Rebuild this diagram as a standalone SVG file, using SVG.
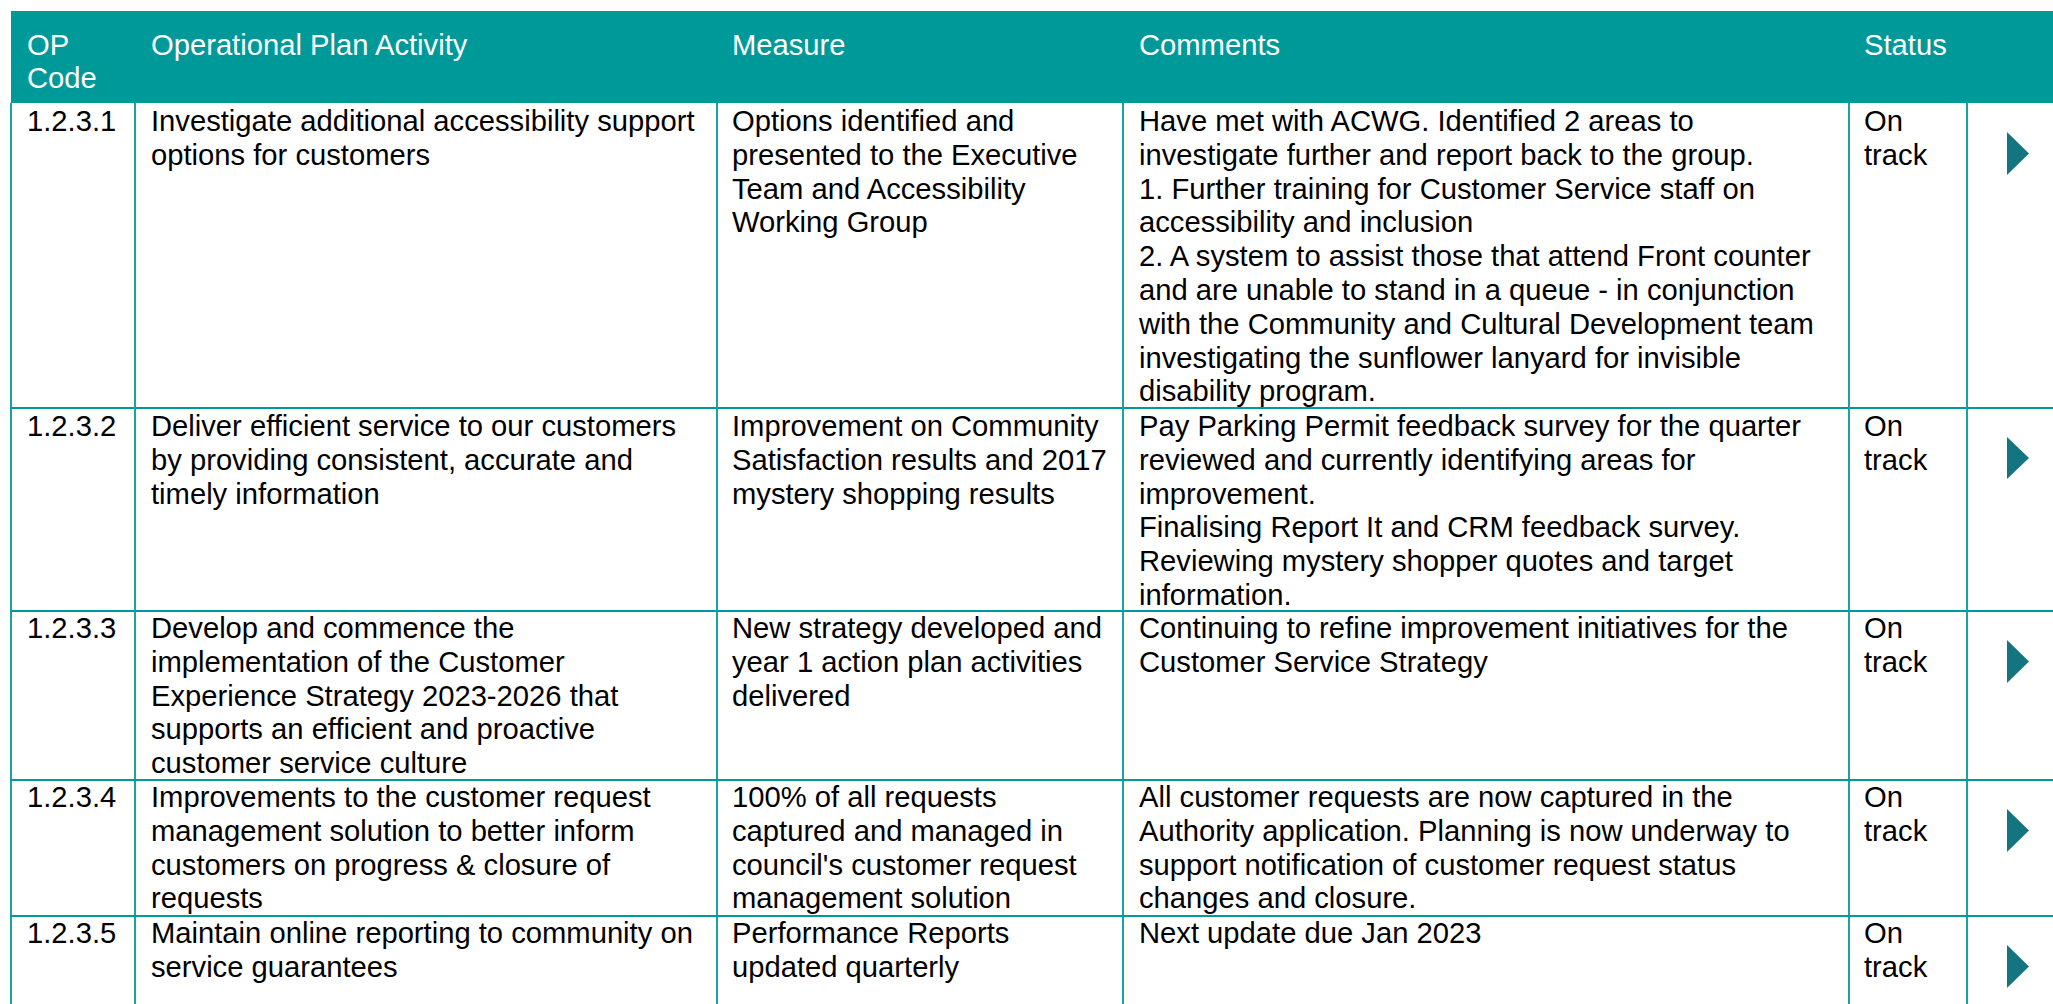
<svg xmlns="http://www.w3.org/2000/svg" width="2053" height="1004" viewBox="0 0 2053 1004">
<style>
.t{font-family:"Liberation Sans",Arial,sans-serif;font-size:29.2px;fill:#000}
.h{font-family:"Liberation Sans",Arial,sans-serif;font-size:29.2px;fill:#fff}
.g{stroke:#009999;stroke-width:1.8;fill:none}
.ar{fill:#12757f}
</style>
<rect x="0" y="0" width="2053" height="1004" fill="#fff"/>
<g id="header">
<rect x="11" y="11" width="2042" height="92" fill="#009999"/>
<text class="h" x="27" y="55">OP<tspan x="27" dy="33">Code</tspan></text>
<text class="h" x="151" y="55">Operational Plan Activity</text>
<text class="h" x="732" y="55">Measure</text>
<text class="h" x="1139" y="55">Comments</text>
<text class="h" x="1864" y="55">Status</text>
</g>
<g id="grid">
<line class="g" x1="11" y1="103" x2="11" y2="1004"/>
<line class="g" x1="135" y1="103" x2="135" y2="1004"/>
<line class="g" x1="717" y1="103" x2="717" y2="1004"/>
<line class="g" x1="1123" y1="103" x2="1123" y2="1004"/>
<line class="g" x1="1849" y1="103" x2="1849" y2="1004"/>
<line class="g" x1="1967" y1="103" x2="1967" y2="1004"/>
<line class="g" x1="11" y1="408" x2="2053" y2="408"/>
<line class="g" x1="11" y1="611" x2="2053" y2="611"/>
<line class="g" x1="11" y1="780" x2="2053" y2="780"/>
<line class="g" x1="11" y1="916" x2="2053" y2="916"/>
</g>
<g id="row-1.2.3.1">
<text class="t" x="27" y="131">1.2.3.1</text>
<text class="t" x="151" y="131">Investigate additional accessibility support<tspan x="151" dy="33.8">options for customers</tspan></text>
<text class="t" x="732" y="131">Options identified and<tspan x="732" dy="33.8">presented to the Executive</tspan><tspan x="732" dy="33.8">Team and Accessibility</tspan><tspan x="732" dy="33.8">Working Group</tspan></text>
<text class="t" x="1139" y="131">Have met with ACWG. Identified 2 areas to<tspan x="1139" dy="33.8">investigate further and report back to the group.</tspan><tspan x="1139" dy="33.8">1. Further training for Customer Service staff on</tspan><tspan x="1139" dy="33.8">accessibility and inclusion</tspan><tspan x="1139" dy="33.8">2. A system to assist those that attend Front counter</tspan><tspan x="1139" dy="33.8">and are unable to stand in a queue - in conjunction</tspan><tspan x="1139" dy="33.8">with the Community and Cultural Development team</tspan><tspan x="1139" dy="33.8">investigating the sunflower lanyard for invisible</tspan><tspan x="1139" dy="33.8">disability program.</tspan></text>
<text class="t" x="1864" y="131">On<tspan x="1864" dy="33.8">track</tspan></text>
<polygon class="ar" points="2007,132 2029,153.5 2007,175"/>
</g>
<g id="row-1.2.3.2">
<text class="t" x="27" y="436">1.2.3.2</text>
<text class="t" x="151" y="436">Deliver efficient service to our customers<tspan x="151" dy="33.8">by providing consistent, accurate and</tspan><tspan x="151" dy="33.8">timely information</tspan></text>
<text class="t" x="732" y="436">Improvement on Community<tspan x="732" dy="33.8">Satisfaction results and 2017</tspan><tspan x="732" dy="33.8">mystery shopping results</tspan></text>
<text class="t" x="1139" y="436">Pay Parking Permit feedback survey for the quarter<tspan x="1139" dy="33.8">reviewed and currently identifying areas for</tspan><tspan x="1139" dy="33.8">improvement.</tspan><tspan x="1139" dy="33.8">Finalising Report It and CRM feedback survey.</tspan><tspan x="1139" dy="33.8">Reviewing mystery shopper quotes and target</tspan><tspan x="1139" dy="33.8">information.</tspan></text>
<text class="t" x="1864" y="436">On<tspan x="1864" dy="33.8">track</tspan></text>
<polygon class="ar" points="2007,437 2029,458 2007,479"/>
</g>
<g id="row-1.2.3.3">
<text class="t" x="27" y="638">1.2.3.3</text>
<text class="t" x="151" y="638">Develop and commence the<tspan x="151" dy="33.8">implementation of the Customer</tspan><tspan x="151" dy="33.8">Experience Strategy 2023-2026 that</tspan><tspan x="151" dy="33.8">supports an efficient and proactive</tspan><tspan x="151" dy="33.8">customer service culture</tspan></text>
<text class="t" x="732" y="638">New strategy developed and<tspan x="732" dy="33.8">year 1 action plan activities</tspan><tspan x="732" dy="33.8">delivered</tspan></text>
<text class="t" x="1139" y="638">Continuing to refine improvement initiatives for the<tspan x="1139" dy="33.8">Customer Service Strategy</tspan></text>
<text class="t" x="1864" y="638">On<tspan x="1864" dy="33.8">track</tspan></text>
<polygon class="ar" points="2007,640 2029,661.5 2007,683"/>
</g>
<g id="row-1.2.3.4">
<text class="t" x="27" y="807">1.2.3.4</text>
<text class="t" x="151" y="807">Improvements to the customer request<tspan x="151" dy="33.8">management solution to better inform</tspan><tspan x="151" dy="33.8">customers on progress &amp; closure of</tspan><tspan x="151" dy="33.8">requests</tspan></text>
<text class="t" x="732" y="807">100% of all requests<tspan x="732" dy="33.8">captured and managed in</tspan><tspan x="732" dy="33.8">council's customer request</tspan><tspan x="732" dy="33.8">management solution</tspan></text>
<text class="t" x="1139" y="807">All customer requests are now captured in the<tspan x="1139" dy="33.8">Authority application. Planning is now underway to</tspan><tspan x="1139" dy="33.8">support notification of customer request status</tspan><tspan x="1139" dy="33.8">changes and closure.</tspan></text>
<text class="t" x="1864" y="807">On<tspan x="1864" dy="33.8">track</tspan></text>
<polygon class="ar" points="2007,809 2029,830.5 2007,852"/>
</g>
<g id="row-1.2.3.5">
<text class="t" x="27" y="943">1.2.3.5</text>
<text class="t" x="151" y="943">Maintain online reporting to community on<tspan x="151" dy="33.8">service guarantees</tspan></text>
<text class="t" x="732" y="943">Performance Reports<tspan x="732" dy="33.8">updated quarterly</tspan></text>
<text class="t" x="1139" y="943">Next update due Jan 2023</text>
<text class="t" x="1864" y="943">On<tspan x="1864" dy="33.8">track</tspan></text>
<polygon class="ar" points="2007,945 2029,966.5 2007,988"/>
</g>
</svg>
